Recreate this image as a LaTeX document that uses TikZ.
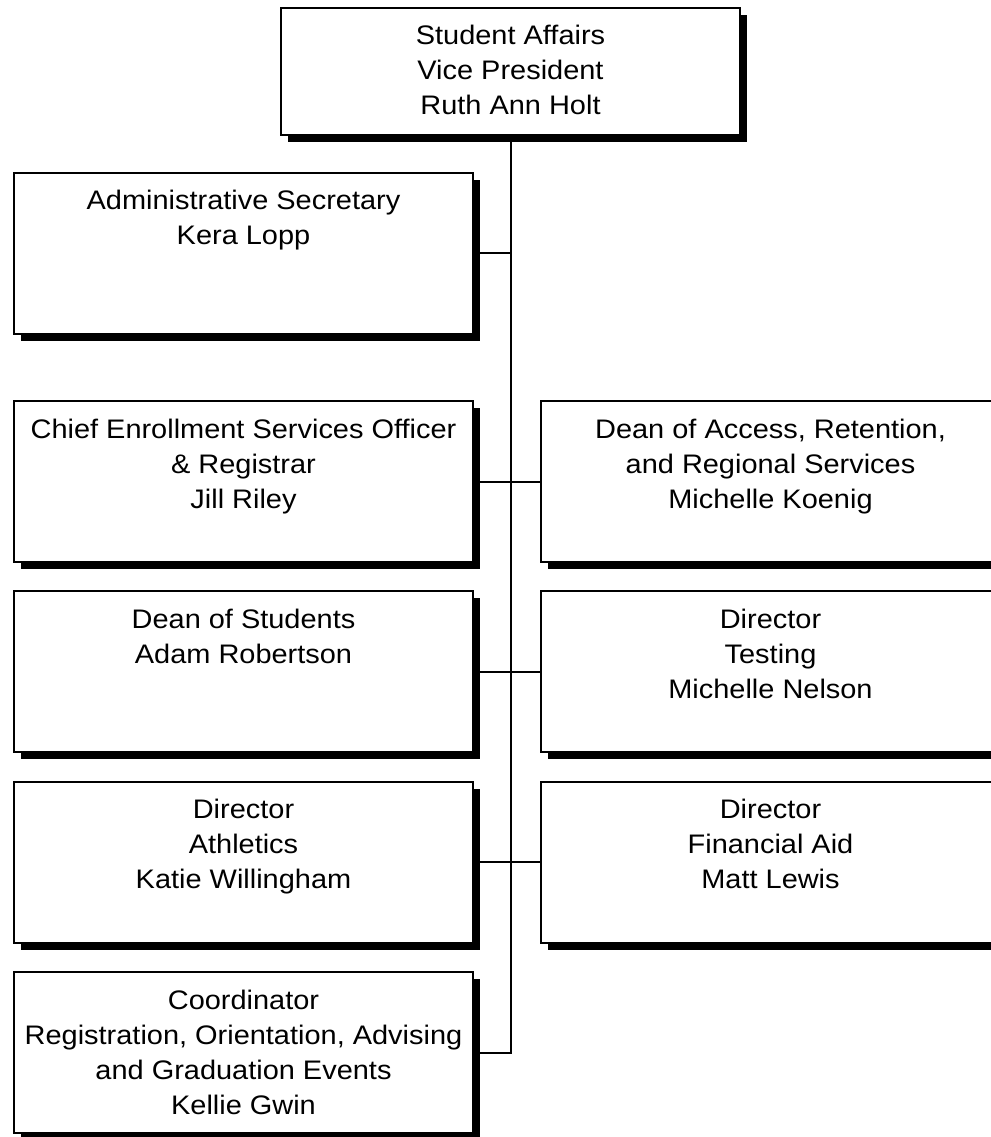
\documentclass[tikz,border=0pt]{standalone}
\usepackage{fontspec}
\setmainfont{Liberation Sans}[FakeStretch=1.08]
\usetikzlibrary{positioning, shadows}

\newcommand{\boxtext}[2][120.75pt]{\parbox[c][#1][t]{344.25pt}{\centering
    \fontsize{20.1pt}{26.25pt}\selectfont\rule{0pt}{27.75pt}#2}}

\begin{document}
\begin{tikzpicture}[x = 0.75pt, y = -0.75pt, % one unit is one pixel
                line width = 1.5pt, % boxes and connectors
                node distance = 20.5pt % gap between rows
            ]

            \tikzstyle{orgbox}=[draw = black, fill = white, inner sep = 0pt,
            drop shadow = {shadow xshift = 5.25pt, shadow yshift = -5.25pt,
            opacity = 1, fill = black}]

            \path[use as bounding box, fill = white] (0,0) rectangle (990,1137);

            \node (vp) [orgbox, anchor = north west] at (280,7)
                {\boxtext[95.25pt]{Student Affairs\\Vice President\\Ruth Ann Holt}};
            \node (secr) [orgbox, anchor = north west] at (13,172)
                {\boxtext{Administrative Secretary\\Kera Lopp}};
            \node (chief) [orgbox, below = 48.75pt of secr]
                {\boxtext{Chief Enrollment Services Officer\\\& Registrar\\Jill Riley}};
            \node (dean) [orgbox, below = of chief]
                {\boxtext{Dean of Students\\Adam Robertson}};
            \node (athl) [orgbox, below = of dean]
                {\boxtext{Director\\Athletics\\Katie Willingham}};
            \node (coord) [orgbox, below = of athl]
                {\boxtext{Coordinator\\Registration, Orientation, Advising\\and Graduation Events\\Kellie Gwin}};
            \node (access) [orgbox, right = 49.5pt of chief]
                {\boxtext{Dean of Access, Retention,\\and Regional Services\\Michelle Koenig}};
            \node (testing) [orgbox, right = 49.5pt of dean]
                {\boxtext{Director\\Testing\\Michelle Nelson}};
            \node (finaid) [orgbox, right = 49.5pt of athl]
                {\boxtext{Director\\Financial Aid\\Matt Lewis}};

            \draw (vp.south) |- (coord.east); \draw (secr.east) -- (secr.east -|
            vp.south); \draw (chief.east) -- (access.west); \draw (dean.east) --
            (testing.west); \draw (athl.east) -- (finaid.west);
        \end{tikzpicture}
\end{document}
